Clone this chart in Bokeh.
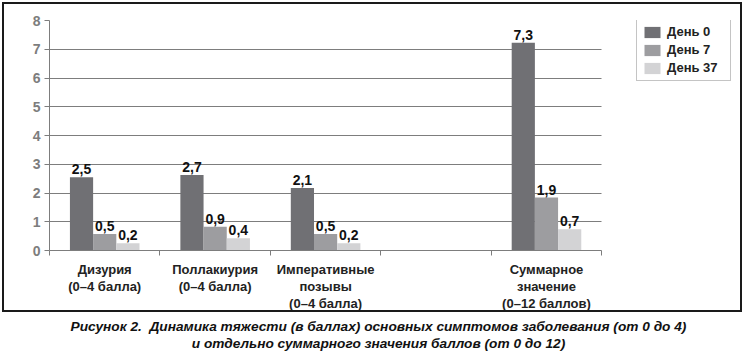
from bokeh.plotting import figure
from bokeh.models import ColumnDataSource, Range1d, FixedTicker, Legend, LegendItem, Div
from bokeh.layouts import column
from bokeh.embed import file_html
from bokeh.resources import INLINE
from bokeh.core.properties import value

categories = ["Дизурия\n(0–4 балла)", "Поллакиурия\n(0–4 балла)",
              "Императивные\nпозывы\n(0–4 балла)", "", "Суммарное\nзначение\n(0–12 баллов)"]
series = ["День 0", "День 7", "День 37"]
day0 = [2.55, 2.63, 2.17, None, 7.23]
day7 = [0.57, 0.83, 0.57, None, 1.84]
day37 = [0.25, 0.43, 0.25, None, 0.74]
labels0 = ["2,5", "2,7", "2,1", "", "7,3"]
labels7 = ["0,5", "0,9", "0,5", "", "1,9"]
labels37 = ["0,2", "0,4", "0,2", "", "0,7"]
y_ticks = [0, 1, 2, 3, 4, 5, 6, 7, 8]

colors = ["#707074", "#9d9da0", "#d3d3d5"]
FONT = "Liberation Sans"

n = len(categories)
FW = 686                      # frame width (px); 5 category slots take 549 px
XMAX = n * FW / 549.0         # extra room on the right holds the legend

idx = [i for i, v in enumerate(day0) if v is not None]
centers = [i + 0.5 for i in idx]

p = figure(frame_width=FW, frame_height=226, x_range=Range1d(0, XMAX), y_range=Range1d(0, 8),
           output_backend="svg", toolbar_location=None,
           min_border_left=45, min_border_right=5, min_border_top=16, min_border_bottom=62)
p.styles = {"border": "2px solid #1a1a1a", "margin-left": "2px", "margin-top": "2px"}
p.outline_line_color = None
p.background_fill_color = "white"
p.border_fill_color = "white"

bw = 0.21
offs = [-bw, 0.0, bw]
rends = []
for vals, labs, off, col in zip([day0, day7, day37], [labels0, labels7, labels37], offs, colors):
    src = ColumnDataSource(dict(x=[c + off for c in centers], top=[vals[i] for i in idx],
                                lab=[labs[i] for i in idx]))
    r = p.vbar(x="x", top="top", width=bw, bottom=0, source=src, fill_color=col, line_color=None)
    rends.append(r)
    p.text(x="x", y="top", text="lab", source=src, text_align="center", text_baseline="bottom",
           y_offset=-3, text_font=value(FONT), text_font_style="bold", text_font_size="14px",
           text_color="#111111")

# grid
p.xgrid.grid_line_color = None
p.ygrid.grid_line_color = "#7d7d7d"
p.ygrid.grid_line_width = 1
p.ygrid.ticker = FixedTicker(ticks=y_ticks)
p.ygrid.cross_bounds = (0, n)

# y axis
p.yaxis.ticker = FixedTicker(ticks=y_ticks)
p.yaxis.axis_line_color = "#7d7d7d"
p.yaxis.major_tick_line_color = "#7d7d7d"
p.yaxis.major_tick_out = 5
p.yaxis.major_tick_in = 0
p.yaxis.minor_tick_line_color = None
p.yaxis.major_label_text_font = FONT
p.yaxis.major_label_text_font_style = "bold"
p.yaxis.major_label_text_font_size = "14px"
p.yaxis.major_label_text_color = "#7d7d7d"
p.yaxis.major_label_standoff = 4

# x axis: labels at category centres, ticks at boundaries
p.xaxis.bounds = (0, n)
p.xaxis.ticker = FixedTicker(ticks=[i + 0.5 for i in range(n)], minor_ticks=list(range(n + 1)))
p.xaxis.major_label_overrides = {i + 0.5: c for i, c in enumerate(categories)}
p.xaxis.axis_line_color = "#7d7d7d"
p.xaxis.major_tick_line_color = None
p.xaxis.minor_tick_line_color = "#7d7d7d"
p.xaxis.minor_tick_out = 5
p.xaxis.minor_tick_in = 0
p.xaxis.major_label_text_font = FONT
p.xaxis.major_label_text_font_style = "bold"
p.xaxis.major_label_text_font_size = "13px"
p.xaxis.major_label_text_color = "#222222"
p.xaxis.major_label_standoff = 5
p.xaxis.major_label_text_line_height = 1.15

legend = Legend(items=[LegendItem(label=s, renderers=[r]) for s, r in zip(series, rends)],
                location=(587, 169), orientation="vertical",
                border_line_color="#8a8a8a", border_line_width=1,
                background_fill_color="white", background_fill_alpha=1.0,
                padding=5, spacing=3, margin=0,
                glyph_width=20, glyph_height=14, label_height=14, label_width=58,
                label_standoff=5, label_text_font=FONT, label_text_font_style="bold",
                label_text_font_size="13px", label_text_color="#222222")
p.add_layout(legend, "center")

caption = Div(text="Рисунок 2.&nbsp; Динамика тяжести (в баллах) основных симптомов заболевания (от 0 до 4)<br>"
                   "и отдельно суммарного значения баллов (от 0 до 12)",
              width=747, height=36,
              styles={"text-align": "center", "font-family": "'Liberation Sans', sans-serif",
                      "font-style": "italic", "font-weight": "bold", "font-size": "13.7px",
                      "line-height": "17px", "color": "#111111", "width": "747px",
                      "white-space": "nowrap", "margin-top": "6px"})

lay = column(p, caption, spacing=0)
open("out.html", "w").write(file_html(lay, INLINE))
